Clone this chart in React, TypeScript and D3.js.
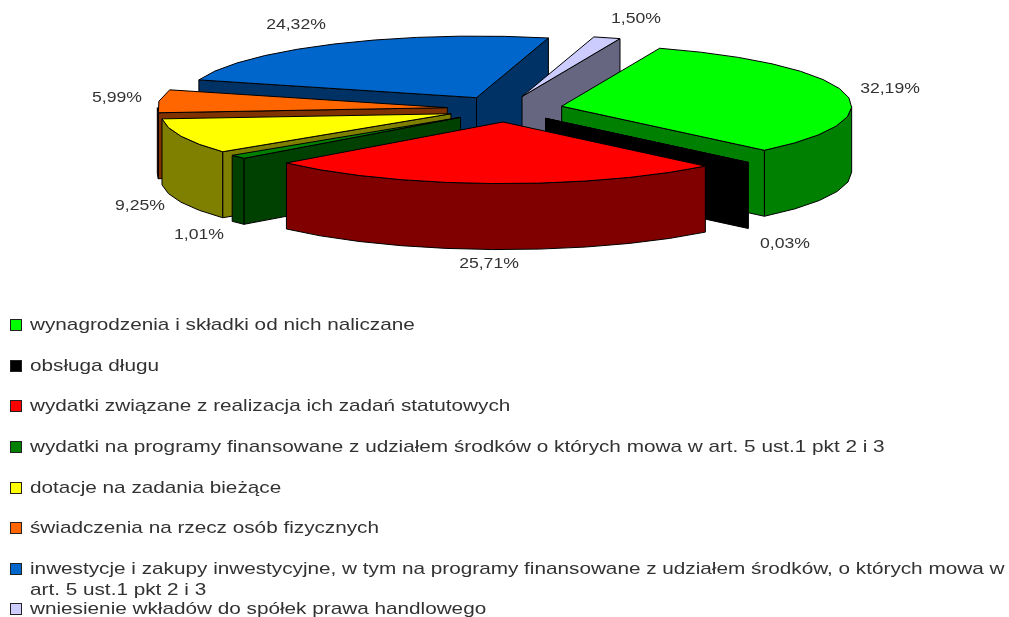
import React from "react";
import * as d3 from "d3";

const categories = [
  "wynagrodzenia i składki od nich naliczane",
  "obsługa długu",
  "wydatki związane z realizacja ich zadań statutowych",
  "wydatki na programy finansowane z udziałem środków o których mowa w art. 5 ust.1 pkt 2 i 3",
  "dotacje na zadania bieżące",
  "świadczenia na rzecz osób fizycznych",
  "inwestycje i zakupy inwestycyjne, w tym na programy finansowane z udziałem środków, o których mowa w art. 5 ust.1 pkt 2 i 3",
  "wniesienie wkładów do spółek prawa handlowego",
];
const values = [32.19, 0.03, 25.71, 1.01, 9.25, 5.99, 24.32, 1.5];
const valueLabels = ["32,19%", "0,03%", "25,71%", "1,01%", "9,25%", "5,99%", "24,32%", "1,50%"];
const topColors = ["#00ff00", "#000000", "#ff0000", "#008000", "#ffff00", "#ff6600", "#0066cc", "#ccccff"];
const wallColors = ["#008000", "#000000", "#800000", "#004000", "#808000", "#803300", "#003366", "#666680"];

const legendLines = [
  [categories[0]],
  [categories[1]],
  [categories[2]],
  [categories[3]],
  [categories[4]],
  [categories[5]],
  ["inwestycje i zakupy inwestycyjne, w tym na programy finansowane z udziałem środków, o których mowa w", "art. 5 ust.1 pkt 2 i 3"],
  [categories[7]],
];
const legendY = [326, 367, 407, 448, 489, 529, 570, 610];
const labelPos: [number, number][] = [[890, 89], [785, 244], [489, 264], [199, 235], [140, 206], [117, 98], [296, 25], [636, 19]];
const paintOrder = [6, 7, 5, 0, 4, 3, 1, 2];

const CX = 505, CY = 109, RX = 290, RY = 61.6, DEPTH = 66, EX = 58, EY = 13;
const START = (19.75 * Math.PI) / 180;

const arcs = d3.pie<number>().sort(null).startAngle(START).endAngle(START + 2 * Math.PI)(values);
const xScale = d3.scaleLinear().domain([-1, 1]).range([-RX, RX]);
const yScale = d3.scaleLinear().domain([-1, 1]).range([RY, -RY]);
const line = d3.line<[number, number]>().x((d) => d[0]).y((d) => d[1]);
const STEP = (9 * Math.PI) / 180;

function sampled(a: number, b: number) {
  const out: number[] = [a];
  const n = Math.max(1, Math.round((b - a) / STEP));
  for (let i = 1; i <= n; i++) out.push(a + ((b - a) * i) / n);
  return out;
}

function Slice({ i }: { i: number }) {
  const arc = arcs[i];
  const mid = (arc.startAngle + arc.endAngle) / 2;
  const ax = CX + EX * Math.sin(mid);
  const ay = CY - EY * Math.cos(mid);
  const pt = (t: number): [number, number] => [ax + xScale(Math.sin(t)), ay + yScale(Math.cos(t))];
  const down = (p: [number, number]): [number, number] => [p[0], p[1] + DEPTH];
  const apex: [number, number] = [ax, ay];
  const face = (t: number) => line([apex, pt(t), down(pt(t)), down(apex)]) + "Z";
  const top = line([apex, ...sampled(arc.startAngle, arc.endAngle).map(pt)]) + "Z";
  const walls: string[] = [];
  for (const k of [0, 2]) {
    const lo = Math.max(arc.startAngle, Math.PI / 2 + k * Math.PI);
    const hi = Math.min(arc.endAngle, (3 * Math.PI) / 2 + k * Math.PI);
    if (hi > lo) {
      const ps = sampled(lo, hi).map(pt);
      walls.push(line([...ps, ...ps.slice().reverse().map(down)]) + "Z");
    }
  }
  const st = { stroke: "#000", strokeWidth: 1, strokeLinejoin: "round" as const };
  return (
    <g>
      {Math.sin(arc.endAngle) > 0 && <path d={face(arc.endAngle)} fill={wallColors[i]} {...st} />}
      {Math.sin(arc.startAngle) < 0 && <path d={face(arc.startAngle)} fill={wallColors[i]} {...st} />}
      {walls.map((d, k) => <path key={k} d={d} fill={wallColors[i]} {...st} />)}
      <path d={top} fill={topColors[i]} {...st} />
    </g>
  );
}

export default function App() {
  const font = "'Liberation Sans', Arial, sans-serif";
  return (
    <svg width={1009} height={617} style={{ position: "absolute", left: 0, top: 0, display: "block", background: "#fff" }} fontFamily={font}>
      <defs>
        <filter id="soft" x="-2%" y="-2%" width="104%" height="104%">
          <feGaussianBlur stdDeviation="0.5" />
        </filter>
      </defs>
      <g filter="url(#soft)">
        {paintOrder.map((i) => <Slice key={i} i={i} />)}
        {valueLabels.map((t, i) => (
          <text key={t} transform={`translate(${labelPos[i][0]},${labelPos[i][1]}) scale(1.26,1)`} textAnchor="middle" dominantBaseline="middle" fontSize={14} fill="#333">{t}</text>
        ))}
        {categories.map((c, i) => (
          <g key={c}>
            <rect x={10.5} y={legendY[i] - 6.5} width={11} height={11} fill={topColors[i]} stroke="#222" strokeWidth={1} />
            {legendLines[i].map((l, j) => (
              <text key={j} transform={`translate(30,${legendY[i] + j * 21}) scale(1.25,1)`} dominantBaseline="middle" fontSize={16.6} fill="#333">{l}</text>
            ))}
          </g>
        ))}
      </g>
    </svg>
  );
}
